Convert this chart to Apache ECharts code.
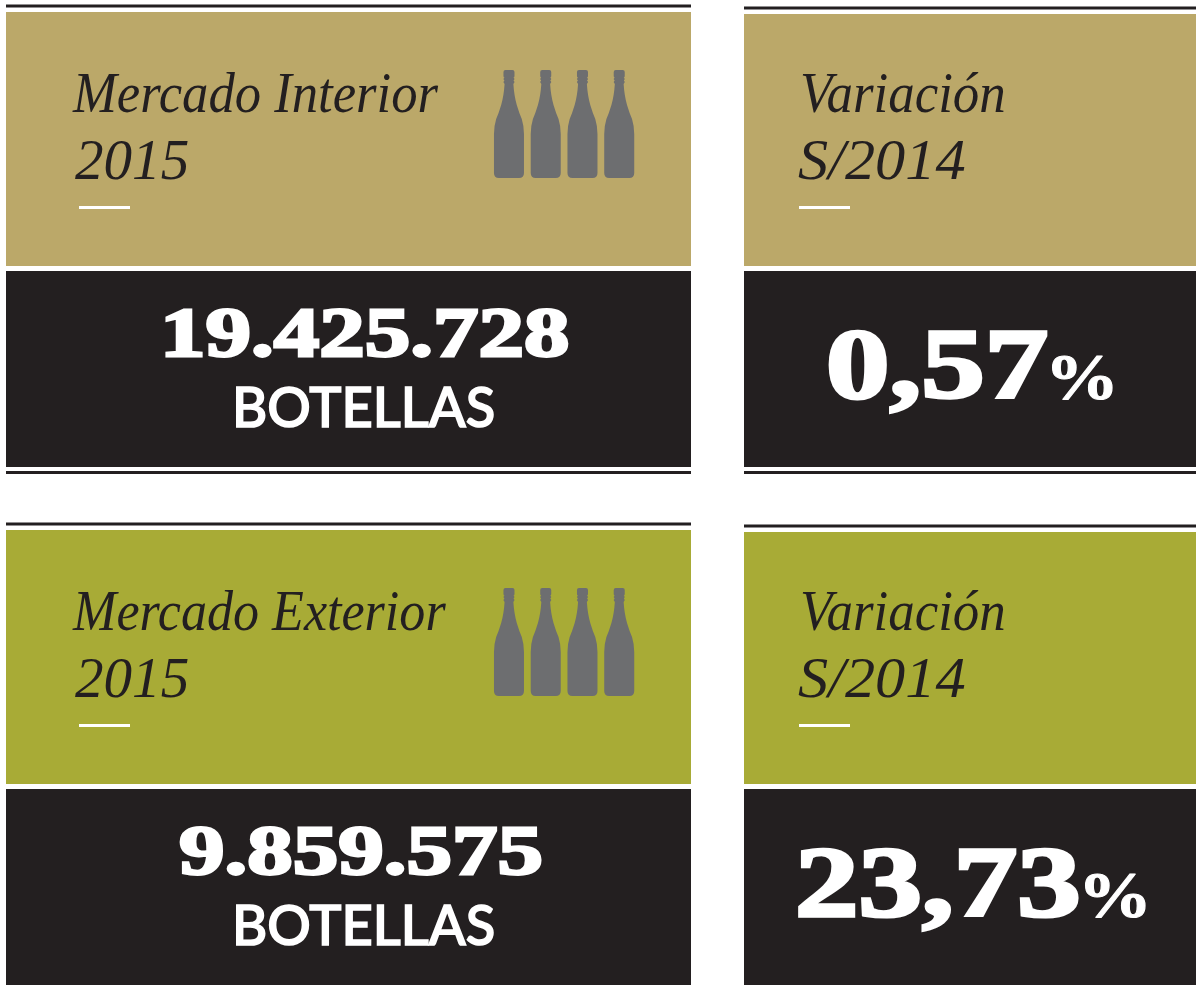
<!DOCTYPE html>
<html>
<head>
<meta charset="utf-8">
<title>Mercado 2015</title>
<style>
  html, body { margin: 0; padding: 0; background: #fff; }
  #main { width: 1196px; height: 985px; }
</style>
<script src="https://cdn.jsdelivr.net/npm/echarts@6/dist/echarts.min.js"></script>
</head>
<body>
<div id="main"></div>
<script>
var marketTitles = ["Mercado Interior", "Mercado Exterior"];
var marketYear = "2015";
var marketValues = ["19.425.728", "9.859.575"];
var marketUnit = "BOTELLAS";
var variationTitle = "Variación";
var variationYear = "S/2014";
var variationValues = ["0,57", "23,73"];
var variationUnit = "%";
var bottleCategories = ["1", "2", "3", "4"];
var bottleValues = [1, 1, 1, 1];

var gold = "#bba869",
  green = "#a8ab36",
  dark = "#231f20",
  serif = "'Liberation Serif'",
  sans = "Lato";

var bottlePath =
  "path://M11.5,0 L18.5,0 Q20.5,0 20.5,2 L20.5,6 Q20.5,7.5 19.5,7.5 L20.6,9 L19.6,10.5 L20.6,12 L19.4,14 " +
  "Q20.2,26 22.8,35 Q25.2,43 27.8,49 Q30,56 30,64 L30,103 Q30,108 25,108 L5,108 Q0,108 0,103 L0,64 " +
  "Q0,56 2.2,49 Q4.8,43 7.2,35 Q9.8,26 10.6,14 L9.4,12 L10.4,10.5 L9.4,9 L10.5,7.5 Q9.5,7.5 9.5,6 L9.5,2 Q9.5,0 11.5,0 Z";

function rect(x, y, w, h, color) {
  return {
    type: "rect",
    silent: true,
    shape: { x: x, y: y, width: w, height: h },
    style: { fill: color }
  };
}

function text(str, x, y, size, opt) {
  opt = opt || {};
  return {
    type: "text",
    silent: true,
    x: x,
    y: y,
    scaleX: opt.scaleX || 1,
    scaleY: opt.scaleY || 1,
    z: 10,
    style: {
      text: str,
      font: (opt.style || "normal") + " " + (opt.weight || "normal") + " " + size + "px " + (opt.family || serif),
      fill: opt.color || dark,
      stroke: opt.stroke || null,
      lineWidth: opt.stroke ? opt.lineWidth : 0,
      textAlign: "left",
      verticalAlign: "bottom"
    }
  };
}

function italic(scaleX) {
  return { style: "italic", scaleX: scaleX };
}

var graphics = [];

function card(x, w, ruleY, colorY, colorBottom, color, blackBottom, lowerRule) {
  graphics.push(rect(x, ruleY, w, 3, dark));
  graphics.push(rect(x, colorY, w, colorBottom - colorY, color));
  graphics.push(rect(x, colorBottom + 5, w, blackBottom - colorBottom - 5, dark));
  if (lowerRule) {
    graphics.push(rect(x, blackBottom + 4, w, 3, dark));
  }
}

card(6, 685, 4.5, 12, 266, gold, 467, true);
card(744, 452, 6.5, 14, 266, gold, 467, true);
card(6, 685, 522.5, 530, 784, green, 985, false);
card(744, 452, 524.5, 532, 784, green, 985, false);

var bigOpt = { weight: "bold", color: "#fff", stroke: "#fff", lineWidth: 2.8, scaleX: 1.3 };
var hugeOpt = { weight: "bold", color: "#fff", stroke: "#fff", lineWidth: 3.4, scaleX: 1.27 };
var unitOpt = { family: sans, weight: 500, color: "#fff", stroke: "#fff", lineWidth: 1.6, scaleX: 0.97 };
var percentOpt = { weight: "bold", color: "#fff", stroke: "#fff", lineWidth: 1, scaleX: 1.12 };
var titleScale = [0.94, 0.93];

[0, 1].forEach(function(i) {
  var dy = i * 518;
  graphics.push(text(marketTitles[i], 73, 125 + dy, 56, italic(titleScale[i])));
  graphics.push(text(marketYear, 75, 192 + dy, 56, italic(1.02)));
  graphics.push(rect(79, 206 + dy, 51, 3, "#fff"));
  graphics.push(text(variationTitle, 800, 125 + dy, 56, italic(0.945)));
  graphics.push(text(variationYear, 798, 192 + dy, 56, italic(1.077)));
  graphics.push(rect(799, 206 + dy, 51, 3, "#fff"));
  graphics.push(text(marketUnit, 232, 437 + dy, 56, unitOpt));
});

graphics.push(text(marketValues[0], 160, 373, 70, bigOpt));
graphics.push(text(marketValues[1], 179, 891, 70, bigOpt));
graphics.push(text(variationValues[0], 826, 421, 100, hugeOpt));
graphics.push(text(variationUnit, 1045, 415, 66, percentOpt));
graphics.push(text(variationValues[1], 795, 939, 100, hugeOpt));
graphics.push(text(variationUnit, 1078, 933, 66, percentOpt));

function bottleSeries(index) {
  return {
    type: "pictorialBar",
    xAxisIndex: index,
    yAxisIndex: index,
    data: bottleValues,
    symbol: bottlePath,
    symbolSize: [30, 108],
    symbolPosition: "start",
    silent: true,
    itemStyle: { color: "#6d6e70" }
  };
}

function bottleAxis(index) {
  return {
    gridIndex: index,
    type: "category",
    data: bottleCategories,
    show: false
  };
}

function valueAxis(index) {
  return { gridIndex: index, type: "value", min: 0, max: 1, show: false };
}

var myChart = echarts.init(document.getElementById("main"), null, { renderer: "canvas" });
var option = {
  animation: false,
  backgroundColor: "#fff",
  grid: [
    { left: 490.6, top: 70, width: 147, height: 108 },
    { left: 490.6, top: 588, width: 147, height: 108 }
  ],
  xAxis: [bottleAxis(0), bottleAxis(1)],
  yAxis: [valueAxis(0), valueAxis(1)],
  series: [bottleSeries(0), bottleSeries(1)],
  graphic: { elements: graphics }
};
myChart.setOption(option);
</script>
</body>
</html>
